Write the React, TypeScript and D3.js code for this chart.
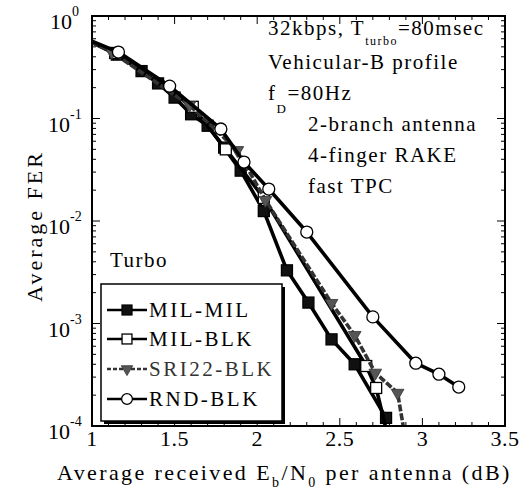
import React from "react";
import * as d3 from "d3";

// Eb/N0 (dB) and average FER
const milMilX = [0.9, 1.15, 1.3, 1.4, 1.5, 1.6, 1.7, 1.8, 1.9, 2.04, 2.18, 2.31, 2.45, 2.59, 2.78];
const milMilY = [0.66, 0.42, 0.29, 0.22, 0.16, 0.11, 0.085, 0.052, 0.031, 0.0125, 0.0033, 0.0016, 0.0007, 0.0004, 0.00012];

const milBlkX = [0.9, 1.14, 1.61, 1.81, 2.04, 2.66, 2.72, 2.79];
const milBlkY = [0.66, 0.436, 0.13, 0.05, 0.0168, 0.000385, 0.000235, 0.00008];

const sriX = [0.9, 1.12, 1.59, 1.88, 2.05, 2.45, 2.59, 2.715, 2.85, 2.9];
const sriY = [0.66, 0.445, 0.135, 0.049, 0.016, 0.00158, 0.00077, 0.00033, 0.00021, 0.00007];

const rndX = [0.9, 1.16, 1.47, 1.78, 1.92, 2.07, 2.3, 2.7, 2.96, 3.1, 3.22];
const rndY = [0.66, 0.445, 0.207, 0.079, 0.0376, 0.0205, 0.0078, 0.00116, 0.00041, 0.00032, 0.00024];

const seriesNames = ["MIL-MIL", "MIL-BLK", "SRI22-BLK", "RND-BLK"];
const xTicks = [1, 1.5, 2, 2.5, 3, 3.5];
const yExps = [0, -1, -2, -3, -4];

const FONT = "'Liberation Serif', 'Times New Roman', serif";

type Kind = "fsq" | "osq" | "tri" | "circ";

function Marker({ kind, cx, cy, s = 1 }: { kind: Kind; cx: number; cy: number; s?: number }) {
  if (kind === "fsq" || kind === "osq") {
    const a = 11 * s;
    return (
      <rect x={cx - a / 2} y={cy - a / 2} width={a} height={a}
        fill={kind === "fsq" ? "#111" : "#fff"} stroke="#000" strokeWidth={1.3} />
    );
  }
  if (kind === "tri") {
    const p = d3.symbol().type(d3.symbolTriangle).size(70 * s * s)() as string;
    return <path d={p} transform={`translate(${cx},${cy}) rotate(180)`} fill="#555" stroke="#333" strokeWidth={0.8} />;
  }
  return <circle cx={cx} cy={cy} r={6 * s} fill="#fff" stroke="#000" strokeWidth={1.3} />;
}

export default function App() {
  const L = 92, R = 505, T = 16, B = 426;
  const x = d3.scaleLinear().domain([1, 3.5]).range([L, R]);
  const y = d3.scaleLog().domain([1e-4, 1]).range([B, T]);
  const line = d3.line<[number, number]>().x((d) => x(d[0])).y((d) => y(d[1]));

  const series = [
    { name: seriesNames[0], xs: milMilX, ys: milMilY, kind: "fsq" as Kind, stroke: "#000", dash: undefined as string | undefined },
    { name: seriesNames[1], xs: milBlkX, ys: milBlkY, kind: "osq" as Kind, stroke: "#000", dash: undefined },
    { name: seriesNames[2], xs: sriX, ys: sriY, kind: "tri" as Kind, stroke: "#333", dash: "7,2" },
    { name: seriesNames[3], xs: rndX, ys: rndY, kind: "circ" as Kind, stroke: "#000", dash: undefined },
  ];

  const xMinor = d3.range(10, 36).map((v) => v / 10);
  const yMinor: number[] = [];
  for (let e = -4; e < 0; e++) for (let m = 2; m <= 9; m++) yMinor.push(m * Math.pow(10, e));

  const legendY = [317, 346, 376, 406];

  return (
    <div style={{ position: "absolute", left: 0, top: 0 }}>
      <svg width={522} height={497} style={{ display: "block", background: "#fff" }} fontFamily={FONT}>
        <defs>
          <clipPath id="plot">
            <rect x={L} y={T} width={R - L} height={B - T} />
          </clipPath>
        </defs>

        {/* ticks */}
        <g stroke="#000" strokeWidth={1}>
          {xMinor.map((v, i) => {
            const major = Math.abs(v * 2 - Math.round(v * 2)) < 1e-6;
            const len = major ? 8 : 4;
            return (
              <g key={i}>
                <line x1={x(v)} x2={x(v)} y1={B} y2={B - len} />
                <line x1={x(v)} x2={x(v)} y1={T} y2={T + len} />
              </g>
            );
          })}
          {yMinor.map((v, i) => (
            <g key={i}>
              <line x1={L} x2={L + 4} y1={y(v)} y2={y(v)} />
              <line x1={R} x2={R - 4} y1={y(v)} y2={y(v)} />
            </g>
          ))}
          {yExps.map((e) => (
            <g key={e}>
              <line x1={L} x2={L + 8} y1={y(Math.pow(10, e))} y2={y(Math.pow(10, e))} />
              <line x1={R} x2={R - 8} y1={y(Math.pow(10, e))} y2={y(Math.pow(10, e))} />
            </g>
          ))}
        </g>

        {/* series */}
        <g clipPath="url(#plot)">
          {series.map((s) => {
            const pts = s.xs.map((v, i) => [v, s.ys[i]] as [number, number]);
            return (
              <g key={s.name}>
                <path d={line(pts) as string} fill="none" stroke={s.stroke} strokeWidth={3.6}
                  strokeDasharray={s.dash} strokeLinejoin="round" />
                {pts.map((p, i) => (
                  <Marker key={i} kind={s.kind} cx={x(p[0])} cy={y(p[1])} />
                ))}
              </g>
            );
          })}
        </g>

        {/* frame */}
        <rect x={L} y={T} width={R - L} height={B - T} fill="none" stroke="#000" strokeWidth={2} />

        {/* x tick labels */}
        <g fontSize={22} textAnchor="middle" fill="#000">
          {xTicks.map((v) => (
            <text key={v} x={x(v)} y={446} letterSpacing={0.5}>{v}</text>
          ))}
        </g>

        {/* y tick labels */}
        <g fontSize={22} fill="#000">
          {yExps.map((e) => (
            <text key={e} x={e === 0 ? 50 : 48} y={y(Math.pow(10, e)) + 13}>
              10
              <tspan fontSize={14} dy={-13}>{e === 0 ? "0" : `-${-e}`}</tspan>
            </text>
          ))}
        </g>

        {/* axis titles */}
        <text x={57} y={480} fontSize={22} letterSpacing={2.4} fill="#000">
          Average received E<tspan fontSize={14} dy={7}>b</tspan>
          <tspan dy={-7}>/N</tspan><tspan fontSize={14} dy={7}>0</tspan>
          <tspan dy={-7}> per antenna (dB)</tspan>
        </text>
        <text transform="translate(42,226) rotate(-90)" textAnchor="middle" fontSize={22} letterSpacing={3} fill="#000">
          Average FER
        </text>

        {/* annotations */}
        <g fontSize={21} letterSpacing={1.5} fill="#000">
          <text x={268} y={35}>
            32kbps, T<tspan fontSize={12} dy={10} letterSpacing={1.5}>turbo</tspan>
            <tspan dy={-10}>=80msec</tspan>
          </text>
          <text x={268} y={69}>Vehicular-B profile</text>
          <text x={268} y={100}>
            f<tspan fontSize={13} dy={13}>D</tspan><tspan dy={-13}>=80Hz</tspan>
          </text>
          <text x={308} y={131}>2-branch antenna</text>
          <text x={308} y={162}>4-finger RAKE</text>
          <text x={308} y={193}>fast TPC</text>
          <text x={110} y={267}>Turbo</text>
        </g>

        {/* legend */}
        <rect x={104} y={287} width={181} height={137} fill="#000" />
        <rect x={101} y={284} width={181} height={137} fill="#fff" stroke="#000" strokeWidth={1.5} />
        {series.map((s, i) => (
          <g key={s.name}>
            <line x1={107} x2={147} y1={legendY[i] - 7} y2={legendY[i] - 7} stroke={s.stroke}
              strokeWidth={2.5} strokeDasharray={s.dash ? "4,2" : undefined} />
            <Marker kind={s.kind} cx={127} cy={legendY[i] - 7} s={0.9} />
            <text x={149} y={legendY[i]} fontSize={21} letterSpacing={2.5}
              fill={s.kind === "tri" ? "#333" : "#000"}>{s.name}</text>
          </g>
        ))}
      </svg>
    </div>
  );
}
